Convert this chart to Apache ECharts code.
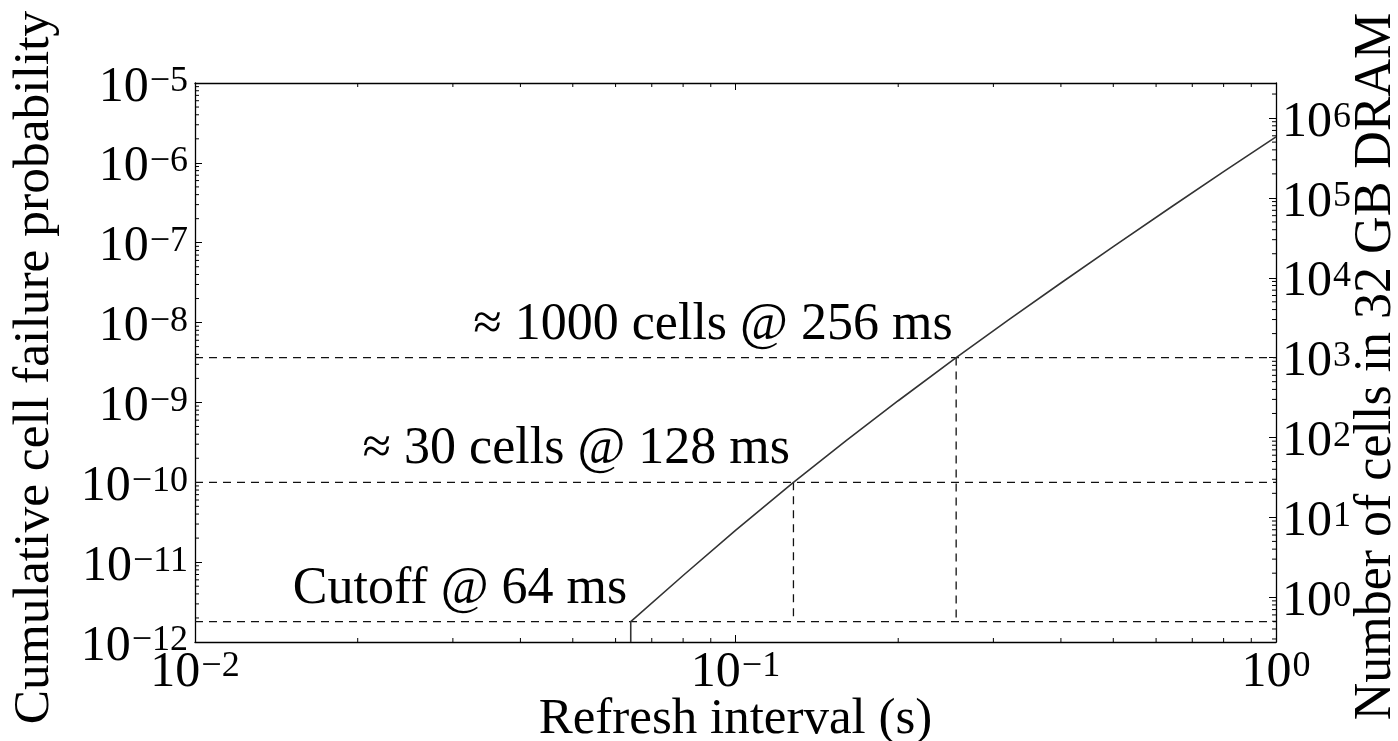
<!DOCTYPE html>
<html><head><meta charset="utf-8">
<script src="https://cdn.jsdelivr.net/npm/echarts@6/dist/echarts.min.js"></script>
<style>html,body{margin:0;padding:0;background:#fff}#c{width:1398px;height:741px}</style>
</head><body><div id="c"></div>
<script>
// ---- data ----
const refreshX = [0.064, 0.064, 0.08, 0.1, 0.128, 0.16, 0.2, 0.256, 0.32, 0.4, 0.5, 0.64, 0.8, 1.0];
const failProb = [1e-12, 1.8e-12, 6.8e-12, 2.5e-11, 1.0e-10, 3.3e-10, 1.05e-9, 3.64e-9, 1.08e-8, 3.13e-8, 8.93e-8, 2.8e-7, 7.78e-7, 2.12e-6];
const cellsPerProb = 2.749e11;          // bits in 32 GB DRAM
const cutoffProb = 1.8e-12;             // failure probability at 64 ms
const guideX = [0.128, 0.256];
const guideProb = [1.0e-10, 3.64e-9];
const annotX = [0.064, 0.128, 0.256];
const annotProb = [1.8e-12, 1.0e-10, 3.64e-9];
const annotText = ['Cutoff @ 64 ms', '\u2248 30 cells @ 128 ms', '\u2248 1000 cells @ 256 ms'];
const xRange = [0.01, 1];
const yRange = [1e-12, 1e-5];
const xTickExps = [-2, -1, 0];
const yTickExps = [-12, -11, -10, -9, -8, -7, -6, -5];
const rightTickExps = [0, 1, 2, 3, 4, 5, 6];
const minorMantissa = [2, 3, 4, 5, 6, 7, 8, 9];

const FONT = 'Liberation Serif';
const rightRange = [yRange[0] * cellsPerProb, yRange[1] * cellsPerProb];

const rich = {
  b: {fontFamily: FONT, fontSize: 50, color: '#000', lineHeight: 50, padding: [9, 0, 0, 0]},
  s: {fontFamily: FONT, fontSize: 36, color: '#000', lineHeight: 36, verticalAlign: 'top', padding: [6, 0, 0, 1]}
};
function powLabel(v, exps) {
  const l = Math.log10(v), e = Math.round(l);
  if (Math.abs(l - e) > 1e-6 || exps.indexOf(e) < 0) return '';
  return '{b|10}{s|' + (e < 0 ? '\u2212' + (-e) : String(e)) + '}';
}
function minorVals(lo, hi) {
  const out = [];
  for (let e = Math.floor(Math.log10(lo)) - 1; e <= Math.ceil(Math.log10(hi)); e++) {
    minorMantissa.forEach(m => { const v = m * Math.pow(10, e); if (v > lo * 1.0001 && v < hi * 0.9999) out.push(v); });
  }
  return out;
}
function tickSeries(xi, yi, data, dx, dy) {
  return {
    type: 'custom', xAxisIndex: xi, yAxisIndex: yi, silent: true, z: 5, data: data,
    renderItem: function (params, api) {
      const p = api.coord([api.value(0), api.value(1)]);
      return {type: 'line', shape: {x1: p[0], y1: p[1], x2: p[0] + dx, y2: p[1] + dy},
              style: {stroke: '#000', lineWidth: 1}};
    }
  };
}

const series = [];
// main curve
series.push({
  type: 'line', xAxisIndex: 0, yAxisIndex: 0, showSymbol: false, symbol: 'none', z: 4,
  data: refreshX.map((x, i) => [x, failProb[i]]),
  lineStyle: {color: '#333', width: 1.6}
});
// dashed guides
const dash = {color: '#111', width: 1.3, type: [8, 6]};
[cutoffProb].concat(guideProb).forEach(p => {
  series.push({type: 'line', xAxisIndex: 0, yAxisIndex: 0, symbol: 'none', silent: true, z: 3,
    data: [[xRange[0], p], [xRange[1], p]], lineStyle: dash});
});
guideX.forEach((x, i) => {
  series.push({type: 'line', xAxisIndex: 0, yAxisIndex: 0, symbol: 'none', silent: true, z: 3,
    data: [[x, guideProb[i]], [x, cutoffProb]], lineStyle: dash});
});
// annotations
series.push({
  type: 'scatter', xAxisIndex: 0, yAxisIndex: 0, symbolSize: 1, silent: true, z: 6,
  itemStyle: {color: 'rgba(0,0,0,0)'},
  data: annotX.map((x, i) => ({value: [x, annotProb[i]], name: annotText[i]})),
  label: {show: true, formatter: '{b}', position: [0, 0], align: 'right', verticalAlign: 'bottom',
          offset: [-3, -6], fontFamily: FONT, fontSize: 52, color: '#000', opacity: 1}
});
// minor ticks
series.push(tickSeries(0, 0, minorVals(yRange[0], yRange[1]).map(v => [xRange[0], v]), 4, 0));
series.push(tickSeries(0, 1, minorVals(rightRange[0], rightRange[1]).map(v => [xRange[1], v]), -4, 0));
series.push(tickSeries(0, 0, minorVals(xRange[0], xRange[1]).map(v => [v, yRange[0]]), 0, -4));
series.push(tickSeries(0, 0, minorVals(xRange[0], xRange[1]).map(v => [v, yRange[1]]), 0, 4));

const axisLine = {show: true, lineStyle: {color: '#000', width: 1.3}};
const axisTick = {show: true, inside: true, length: 7, lineStyle: {color: '#000', width: 1}};

const option = {
  animation: false,
  backgroundColor: '#fff',
  grid: {left: 195, right: 122, top: 83, bottom: 99, containLabel: false, outerBoundsMode: 'none'},
  xAxis: [
    {type: 'log', min: xRange[0], max: xRange[1], position: 'bottom',
     axisLine: axisLine, axisTick: axisTick, splitLine: {show: false},
     axisLabel: {formatter: v => powLabel(v, xTickExps), rich: rich, margin: 1, fontFamily: FONT},
     name: 'Refresh interval (s)', nameLocation: 'middle', nameGap: 52, nameMoveOverlap: false,
     nameTextStyle: {fontFamily: FONT, fontSize: 51, color: '#000'}},
    {type: 'log', min: xRange[0], max: xRange[1], position: 'top',
     axisLine: axisLine, axisTick: axisTick, splitLine: {show: false}, axisLabel: {show: false}}
  ],
  yAxis: [
    {type: 'log', min: yRange[0], max: yRange[1], position: 'left',
     axisLine: axisLine, axisTick: axisTick, splitLine: {show: false},
     axisLabel: {formatter: v => powLabel(v, yTickExps), rich: rich, margin: 7, fontFamily: FONT},
     name: 'Cumulative cell failure probability', nameLocation: 'middle', nameRotate: 90, nameGap: 135,
     nameMoveOverlap: false,
     nameTextStyle: {fontFamily: FONT, fontSize: 51.5, color: '#000', padding: [0, 10, 0, 0]}},
    {type: 'log', min: rightRange[0], max: rightRange[1], position: 'right',
     axisLine: axisLine, axisTick: axisTick, splitLine: {show: false},
     axisLabel: {formatter: v => powLabel(v, rightTickExps), rich: rich, margin: 6, fontFamily: FONT},
     name: 'Number of cells in 32 GB DRAM', nameLocation: 'middle', nameRotate: 90, nameGap: 74,
     nameMoveOverlap: false,
     nameTextStyle: {fontFamily: FONT, fontSize: 52, color: '#000', padding: [0, 8, 0, 0]}}
  ],
  series: series
};
const chart = echarts.init(document.getElementById('c'), null, {renderer: 'canvas'});
chart.setOption(option);
</script>
</body></html>
